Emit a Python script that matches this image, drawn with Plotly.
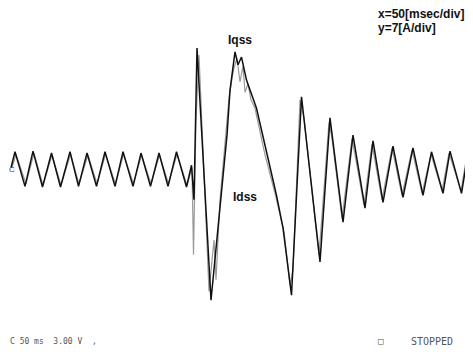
import plotly.graph_objects as go

# page body has an 8px default margin, so the figure is sized to fill the rest of the window
WIN_W, WIN_H = 473, 356
OFF = 8
W, H = WIN_W - OFF, WIN_H - OFF

# Iqss trace (time in ms, current in A)
iqss_t = [1, 5, 15, 23, 32.5, 41.5, 50.5, 60, 68.5, 77, 86.5, 95, 105, 113, 123, 131,
          140.5, 149, 158, 166.5, 176.5, 181.5, 184, 187, 201, 207, 217, 220, 225, 228,
          231.5, 236.5, 241, 246.5, 256.5, 266.5, 273, 281.5, 291.5, 310, 320, 333,
          343, 355, 363, 373, 383, 393, 403, 413, 421.5, 433, 440, 451.5, 458, 463]
iqss_i = [0.2, 2.7, -2.7, 2.8, -2.8, 2.5, -2.8, 2.7, -2.7, 2.5, -2.7, 2.7, -2.7, 2.7, -2.7, 2.5,
          -2.7, 2.5, -2.7, 2.7, -2.8, 0.6, -4.8, 18.9, -20.5, -11.1, 5.3, 12.3, 18.3, 16.3,
          17.5, 13.9, 12.0, 9.5, 2.7, -4.1, -9.2, -19.7, 11.3, -14.5, 8.0, -8.3,
          5.3, -6.1, 4.4, -5.2, 3.6, -4.4, 3.3, -4.1, 2.7, -3.8, 2.8, -3.8, 2.5, 0.6]

# Idss trace
idss_t = [2, 6, 16, 24, 33, 42, 51, 60.5, 69, 78, 87, 95.5, 105.5, 113.5, 123.5, 131.5,
          141, 149.5, 158.5, 167, 177, 182, 183.5, 186, 189, 193, 199, 204, 206, 210,
          216, 219, 222, 224, 227, 230, 233, 235, 238, 241, 245, 255, 265, 274, 280,
          283, 290, 294, 309, 319, 322, 332, 342, 354, 362, 372, 382, 392, 402, 412,
          421, 432, 439, 451, 457, 463]
idss_i = [0.2, 2.3, -2.3, 2.5, -2.5, 2.2, -2.5, 2.3, -2.3, 2.2, -2.3, 2.3, -2.3, 2.3, -2.3, 2.2,
          -2.3, 2.2, -2.3, 2.3, -2.5, 0.2, -13.4, 7.7, 17.8, 3.0, -19.1, -11.1, -17.3, -4.8,
          6.1, 11.1, 14.2, 15.8, 17.3, 13.6, 16.1, 12.0, 13.3, 10.8, 9.5, 2.2, -3.8, -9.8, -18.1,
          -15.8, 10.8, 8.0, -13.4, 7.3, 4.8, -7.7, 4.8, -5.6, 3.9, -4.8, 3.3, -4.1, 3.0, -3.8,
          2.3, -3.4, 2.5, -3.4, 2.2, 0.5]

x_range = [-2, 463]
y_range = [-29.2, 25.16]

fig = go.Figure()
fig.add_trace(go.Scatter(x=idss_t, y=idss_i, mode="lines", name="Idss",
                         line=dict(color="#9a9a9a", width=1.2)))
fig.add_trace(go.Scatter(x=iqss_t, y=iqss_i, mode="lines", name="Iqss",
                         line=dict(color="#111111", width=1.5)))


def px(x, y):
    # window pixel position -> paper fraction
    return max(x - OFF, 0) / W, 1 - (y - OFF) / H


annots = []


def add_text(text, x, y, size, color="#111", bold=False, family="Liberation Sans, Arial, sans-serif",
             xanchor="center", angle=0):
    xp, yp = px(x, y)
    annots.append(dict(text=f"<b>{text}</b>" if bold else text, x=xp, y=yp, xref="paper", yref="paper",
                       showarrow=False, xanchor=xanchor, yanchor="middle", textangle=angle,
                       font=dict(size=size, color=color, family=family)))


add_text("x=50[msec/div]", 376, 14, 12, bold=True, xanchor="left")
add_text("y=7[A/div]", 376, 28, 12, bold=True, xanchor="left")
add_text("Iqss", 240, 40, 12, bold=True)
add_text("Idss", 245, 197, 12, bold=True)
add_text("C", 12, 170, 8, color="#444")
add_text("C 50 ms  3.00 V  ,", 5, 341, 8, color="#555", family="DejaVu Sans Mono, monospace", xanchor="left")
add_text("\u25a1", 381, 341, 9, color="#555", family="DejaVu Sans Mono, monospace")
add_text("STOPPED", 409, 341, 10, color="#555", family="DejaVu Sans Mono, monospace", xanchor="left")

fig.update_layout(
    width=W, height=H,
    margin=dict(l=0, r=0, t=0, b=0),
    paper_bgcolor="white", plot_bgcolor="white",
    showlegend=False,
    xaxis=dict(range=x_range, visible=False, fixedrange=True),
    yaxis=dict(range=y_range, visible=False, fixedrange=True),
    annotations=annots,
)

fig.write_html("out.html")
